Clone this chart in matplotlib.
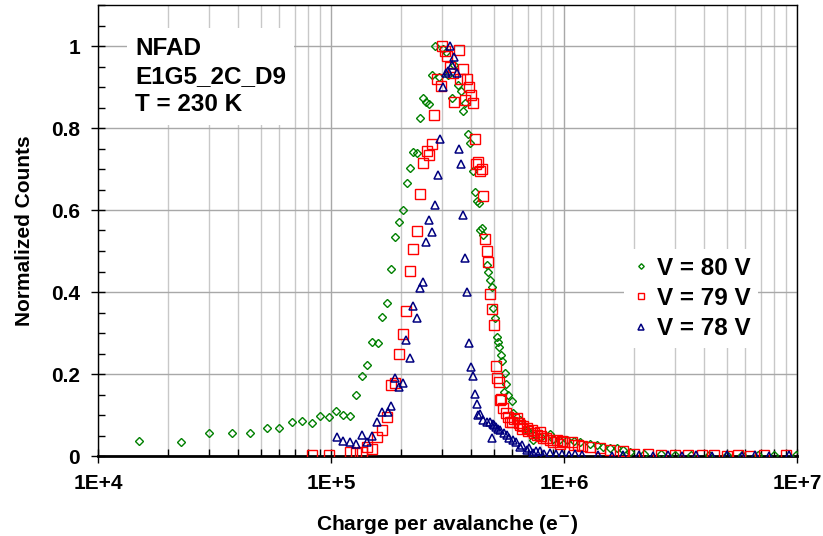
import numpy as np
import matplotlib
matplotlib.use('Agg')
import matplotlib.pyplot as plt
from matplotlib.ticker import LogLocator, FixedLocator, MultipleLocator, NullFormatter

plt.rcParams['font.family'] = ['Liberation Sans', 'DejaVu Sans']
plt.rcParams['font.weight'] = 'bold'

# V = 80 V (green diamonds)
x80 = [1.5e4, 2.27e4, 3.0e4, 3.76e4, 4.5e4, 5.3e4, 6.0e4, 6.8e4, 7.5e4, 8.3e4,
       9.0e4, 9.8e4, 1.05e5, 1.13e5, 1.21e5, 1.28e5, 1.358e5, 1.431e5, 1.504e5, 1.586e5,
       1.655e5, 1.734e5, 1.809e5, 1.882e5, 1.958e5, 2.031e5, 2.113e5, 2.183e5, 2.256e5, 2.333e5,
       2.41e5, 2.489e5, 2.557e5, 2.641e5, 2.704e5, 2.795e5, 2.916e5, 3.034e5, 3.107e5, 3.187e5,
       3.296e5, 3.372e5, 3.519e5, 3.603e5, 3.697e5, 3.759e5, 3.884e5, 3.95e5, 4.081e5, 4.15e5,
       4.245e5, 4.317e5, 4.36e5, 4.434e5, 4.504e5, 4.658e5, 4.733e5, 4.813e5, 4.895e5, 4.973e5,
       5.057e5, 5.143e5, 5.224e5, 5.276e5, 5.349e5, 5.435e5, 5.527e5, 5.582e5, 5.636e5, 5.766e5,
       5.963e5, 6.058e5, 6.474e5, 6.917e5, 7.0e5, 7.383e5, 7.5e5, 8.0e5, 8.709e5, 9.0e5,
       9.5e5, 1.027e6, 1.1e6, 1.171e6, 1.293e6, 1.38e6, 1.475e6, 1.58e6, 1.684e6, 1.8e6,
       1.92e6, 2.2e6, 2.6e6, 3.0e6, 3.5e6, 4.2e6, 5.0e6, 5.8e6, 6.8e6, 8.0e6, 9.9e6]
y80 = [0.037, 0.035, 0.057, 0.057, 0.057, 0.069, 0.069, 0.082, 0.085, 0.080,
       0.098, 0.096, 0.109, 0.101, 0.098, 0.150, 0.194, 0.221, 0.277, 0.275,
       0.340, 0.372, 0.456, 0.535, 0.571, 0.599, 0.667, 0.703, 0.742, 0.738,
       0.824, 0.872, 0.864, 0.859, 0.929, 1.000, 0.925, 0.992, 0.986, 0.929,
       0.872, 0.954, 0.905, 0.891, 0.841, 0.860, 0.785, 0.763, 0.694, 0.643,
       0.623, 0.618, 0.551, 0.555, 0.539, 0.466, 0.450, 0.429, 0.413, 0.360,
       0.336, 0.291, 0.279, 0.265, 0.246, 0.232, 0.157, 0.203, 0.176, 0.149,
       0.134, 0.104, 0.088, 0.063, 0.060, 0.039, 0.052, 0.046, 0.054, 0.042,
       0.040, 0.039, 0.036, 0.035, 0.029, 0.026, 0.023, 0.020, 0.019, 0.014,
       0.010, 0.006, 0.004, 0.003, 0.002, 0.002, 0.002, 0.002, 0.002, 0.002, 0.003]

# V = 79 V (red squares)
x79 = [8.26e4, 9.78e4, 1.206e5, 1.276e5, 1.354e5, 1.431e5, 1.504e5, 1.58e5, 1.655e5, 1.734e5,
       1.804e5, 1.888e5, 1.958e5, 2.031e5, 2.105e5, 2.183e5, 2.256e5, 2.333e5, 2.403e5, 2.475e5,
       2.574e5, 2.641e5, 2.704e5, 2.775e5, 2.859e5, 2.957e5, 3.004e5, 3.085e5, 3.156e5, 3.241e5,
       3.329e5, 3.372e5, 3.543e5, 3.577e5, 3.686e5, 3.759e5, 3.846e5, 3.911e5, 3.977e5, 4.057e5,
       4.138e5, 4.191e5, 4.262e5, 4.36e5, 4.434e5, 4.504e5, 4.58e5, 4.658e5, 4.733e5, 4.813e5,
       4.895e5, 5.007e5, 5.108e5, 5.172e5, 5.245e5, 5.312e5, 5.349e5, 5.489e5, 5.636e5, 5.766e5,
       5.864e5, 5.963e5, 6.1e5, 6.266e5, 6.4e5, 6.474e5, 6.6e5, 6.689e5, 6.917e5, 7.0e5,
       7.268e5, 7.4e5, 7.636e5, 7.889e5, 8.0e5, 8.151e5, 8.4e5, 8.709e5, 9.0e5, 9.305e5,
       9.6e5, 9.774e5, 1.0e6, 1.079e6, 1.1e6, 1.152e6, 1.2e6, 1.293e6, 1.427e6, 1.576e6,
       1.797e6, 2.0e6, 2.3e6, 2.6e6, 3.0e6, 3.4e6, 3.9e6, 4.4e6, 5.0e6, 5.6e6,
       6.3e6, 7.2e6, 9.0e6]
y79 = [0.002, 0.002, 0.010, 0.007, 0.009, 0.023, 0.018, 0.046, 0.064, 0.095,
       0.173, 0.177, 0.248, 0.297, 0.354, 0.452, 0.504, 0.549, 0.639, 0.715,
       0.744, 0.733, 0.761, 0.831, 0.919, 0.902, 1.000, 0.988, 0.976, 0.950,
       0.933, 0.863, 0.990, 0.920, 0.943, 0.868, 0.920, 0.899, 0.880, 0.862,
       0.773, 0.712, 0.718, 0.695, 0.700, 0.635, 0.529, 0.499, 0.472, 0.395,
       0.358, 0.320, 0.220, 0.190, 0.180, 0.137, 0.139, 0.117, 0.105, 0.096,
       0.084, 0.084, 0.090, 0.092, 0.080, 0.076, 0.065, 0.072, 0.068, 0.060,
       0.063, 0.055, 0.051, 0.059, 0.050, 0.043, 0.045, 0.040, 0.035, 0.039,
       0.030, 0.037, 0.035, 0.033, 0.028, 0.027, 0.025, 0.023, 0.019, 0.015,
       0.011, 0.006, 0.004, 0.003, 0.002, 0.003, 0.002, 0.002, 0.001, 0.002,
       0.001, 0.002, 0.003]

# V = 78 V (blue triangles)
x78 = [1.058e5, 1.129e5, 1.206e5, 1.28e5, 1.354e5, 1.431e5, 1.504e5, 1.58e5, 1.66e5, 1.751e5,
       1.804e5, 1.888e5, 1.958e5, 2.037e5, 2.105e5, 2.183e5, 2.256e5, 2.333e5, 2.417e5, 2.489e5,
       2.564e5, 2.633e5, 2.713e5, 2.786e5, 2.87e5, 2.936e5, 3.016e5, 3.116e5, 3.187e5, 3.241e5,
       3.296e5, 3.372e5, 3.463e5, 3.543e5, 3.613e5, 3.697e5, 3.759e5, 3.846e5, 3.911e5, 3.989e5,
       4.069e5, 4.15e5, 4.22e5, 4.287e5, 4.36e5, 4.504e5, 4.658e5, 4.813e5, 4.895e5, 4.973e5,
       5.0e5, 5.1e5, 5.2e5, 5.312e5, 5.5e5, 5.675e5, 5.8e5, 6.058e5, 6.2e5, 6.474e5,
       6.6e5, 6.917e5, 7.1e5, 7.383e5, 7.6e5, 7.9e5, 8.2e5, 8.7e5, 9.2e5, 9.8e5,
       1.05e6, 1.12e6, 1.2e6, 1.4e6, 1.6e6, 1.8e6, 2.1e6, 2.4e6, 2.8e6, 3.2e6,
       3.7e6, 4.3e6, 5.0e6, 5.8e6, 6.6e6, 7.6e6, 9.2e6]
y78 = [0.046, 0.037, 0.033, 0.029, 0.051, 0.033, 0.049, 0.084, 0.107, 0.108,
       0.122, 0.191, 0.168, 0.179, 0.283, 0.238, 0.365, 0.336, 0.410, 0.424,
       0.523, 0.576, 0.546, 0.611, 0.685, 0.773, 0.900, 0.933, 0.939, 1.000,
       0.954, 0.973, 0.933, 0.750, 0.712, 0.588, 0.482, 0.399, 0.276, 0.216,
       0.195, 0.151, 0.126, 0.100, 0.102, 0.088, 0.084, 0.084, 0.043, 0.078,
       0.075, 0.070, 0.065, 0.063, 0.055, 0.051, 0.045, 0.039, 0.035, 0.023,
       0.028, 0.015, 0.020, 0.007, 0.012, 0.012, 0.006, 0.008, 0.004, 0.006,
       0.003, 0.004, 0.002, 0.002, 0.001, 0.003, 0.002, 0.001, 0.002, 0.001,
       0.002, 0.001, 0.002, 0.001, 0.002, 0.001, 0.002]

xtick_vals = [1e4, 1e5, 1e6, 1e7]
xtick_labels = ['1E+4', '1E+5', '1E+6', '1E+7']
ytick_vals = [0, 0.2, 0.4, 0.6, 0.8, 1.0]
ytick_labels = ['0', '0.2', '0.4', '0.6', '0.8', '1']

fig = plt.figure(figsize=(8.23, 5.36), dpi=100)
ax = fig.add_axes([98/823, 80/536, 699/823, 451/536])

ax.plot(x80, y80, linestyle='none', marker='D', ms=4, mfc='none', mec='#008000', mew=1.0,
        label='V = 80 V', zorder=3)
ax.plot(x79, y79, linestyle='none', marker='s', ms=6.5, mfc='none', mec='#ff0000', mew=1.0,
        label='V = 79 V', zorder=3)
ax.plot(x78, y78, linestyle='none', marker='^', ms=6, mfc='none', mec='#000080', mew=1.1,
        label='V = 78 V', zorder=3)

ax.set_xscale('log')
ax.set_xlim(1e4, 1e7)
ax.set_ylim(0, 1.1)
ax.xaxis.set_major_locator(FixedLocator(xtick_vals))
ax.set_xticks(xtick_vals)
ax.set_xticklabels(xtick_labels)
ax.xaxis.set_minor_locator(LogLocator(base=10, subs=np.arange(2, 10)))
ax.xaxis.set_minor_formatter(NullFormatter())
ax.set_yticks(ytick_vals)
ax.set_yticklabels(ytick_labels)
ax.yaxis.set_minor_locator(MultipleLocator(0.05))

ax.set_axisbelow(True)
ax.grid(True, which='major', axis='both', color='#a8a8a8', lw=1.0)
ax.grid(True, which='minor', axis='x', color='#c8c8c8', lw=1.0)

ax.tick_params(axis='both', which='major', direction='inout', length=10, width=1,
               labelsize=15, pad=8)
ax.tick_params(axis='both', which='minor', direction='in', length=5, width=1)
for lab in ax.get_xticklabels() + ax.get_yticklabels():
    lab.set_fontweight('bold')

for s in ax.spines.values():
    s.set_color('black')
    s.set_linewidth(1.0)
ax.spines['bottom'].set_linewidth(2.0)

ax.set_xlabel('Charge per avalanche (e$^{\\mathbf{-}}$)', fontsize=15, fontweight='bold',
              labelpad=14)
ax.set_ylabel('Normalized Counts', fontsize=15, fontweight='bold', labelpad=12)

ax.text(0.053, 0.93, 'NFAD\nE1G5_2C_D9\nT = 230 K', transform=ax.transAxes,
        fontsize=17.5, fontweight='bold', va='top', ha='left', linespacing=1.3, zorder=5,
        bbox=dict(facecolor='white', edgecolor='none', pad=6))

leg = ax.legend(loc='upper left', bbox_to_anchor=(0.735, 0.485), fontsize=17.5,
                frameon=True, facecolor='white', edgecolor='none', framealpha=1,
                markerscale=0.7, handlelength=0.8, handletextpad=0.25, labelspacing=0.3,
                borderpad=0.3, fancybox=False)
for t in leg.get_texts():
    t.set_fontweight('bold')
leg.set_zorder(5)

fig.savefig('out.png', dpi=100)
